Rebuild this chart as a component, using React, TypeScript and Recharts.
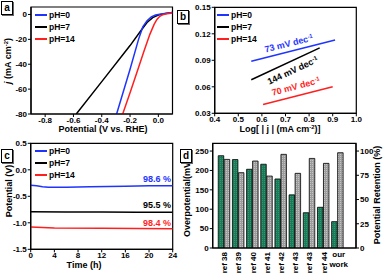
import React from "react";
import { LineChart, Line, XAxis, YAxis, ReferenceArea, BarChart, Bar } from "recharts";

const FONT = "'Liberation Sans', Arial, Helvetica, sans-serif";
const BLUE = "#1f35ff";
const RED = "#ff1f1f";
const BLACK = "#000000";

// (a) polarization curves, potential (V vs RHE) vs j (mA cm-2)
const lsvPh0 = [
  { x: -0.295, y: -80 }, { x: -0.2, y: -44 }, { x: -0.14, y: -20 }, { x: -0.11, y: -10 },
  { x: -0.08, y: -5 }, { x: -0.05, y: -2 }, { x: -0.02, y: -0.5 }, { x: 0.02, y: 0.3 }, { x: 0.1, y: 1.5 },
];
const lsvPh7 = [
  { x: -0.58, y: -80 }, { x: -0.4, y: -54 }, { x: -0.2, y: -25 }, { x: -0.12, y: -12.5 },
  { x: -0.08, y: -6.5 }, { x: -0.04, y: -2.5 }, { x: 0, y: -0.5 }, { x: 0.05, y: 0.7 }, { x: 0.1, y: 1.5 },
];
const lsvPh14 = [
  { x: -0.252, y: -80 }, { x: -0.2, y: -63 }, { x: -0.15, y: -46 }, { x: -0.1, y: -29 },
  { x: -0.06, y: -16 }, { x: -0.03, y: -8 }, { x: -0.01, y: -4 }, { x: 0.01, y: -1.5 },
  { x: 0.03, y: -0.3 }, { x: 0.06, y: 0.5 }, { x: 0.1, y: 1.2 },
];

// (b) Tafel lines
const tafelPh0 = [{ x: 0.555, y: 0.089 }, { x: 0.91, y: 0.113 }];
const tafelPh7 = [{ x: 0.555, y: 0.068 }, { x: 0.845, y: 0.104 }];
const tafelPh14 = [{ x: 0.605, y: 0.04 }, { x: 0.9, y: 0.06 }];

// (c) chronopotentiometry
const stabPh0 = [
  { x: 0, y: -0.29 }, { x: 1, y: -0.3 }, { x: 2, y: -0.32 }, { x: 3, y: -0.33 }, { x: 6, y: -0.33 },
  { x: 10, y: -0.32 }, { x: 16, y: -0.31 }, { x: 20, y: -0.3 }, { x: 24, y: -0.3 },
];
const stabPh7 = [
  { x: 0, y: -0.79 }, { x: 6, y: -0.795 }, { x: 12, y: -0.795 }, { x: 18, y: -0.8 }, { x: 24, y: -0.8 },
];
const stabPh14 = [
  { x: 0, y: -1.08 }, { x: 2, y: -1.09 }, { x: 4, y: -1.1 }, { x: 12, y: -1.105 }, { x: 24, y: -1.11 },
];

// (d) comparison with literature
const studies = ["ref 38", "ref 39", "ref 40", "ref 41", "ref 42", "ref 43", "ref 43", "ref 44", "our work"];
const overpotentials = [238, 228, 203, 216, 178, 137, 91, 105, 68];
const retentions = [91.4, 77.7, 89.7, 74.2, 96.6, 77, 92.4, 87.3, 98.3];
const compareData = studies.map((s, i) => ({ i, overpotential: overpotentials[i], retention: retentions[i] }));

const tickStyle = { fontSize: 8, fontWeight: 700, fill: "#000", fontFamily: FONT };
const axisLine = { stroke: "#000", strokeWidth: 1.2 };
const tickLine = { stroke: "#000", strokeWidth: 1 };

const Txt = ({ x, y, rot = 0, size = 9, color = "#000", children }: any) => (
  <div
    style={{
      position: "absolute", left: x, top: y, transform: `translate(-50%,-50%) rotate(${rot}deg)`,
      whiteSpace: "nowrap", fontFamily: FONT, fontWeight: 700, fontSize: size, color, lineHeight: 1,
    }}
  >
    {children}
  </div>
);

const PanelTag = ({ x, y, ch }: any) => (
  <div
    style={{
      position: "absolute", left: x, top: y, width: 10, height: 12, border: "1px solid #000",
      boxShadow: "1px 1px 0 #666", background: "#fff", fontFamily: FONT, fontWeight: 700, fontSize: 10,
      lineHeight: "12px", textAlign: "center",
    }}
  >
    {ch}
  </div>
);

const Legend3 = ({ x, y }: any) => (
  <div style={{ position: "absolute", left: x, top: y }}>
    {[["pH=0", BLUE], ["pH=7", BLACK], ["pH=14", RED]].map(([t, c], k) => (
      <div key={k} style={{ position: "absolute", left: 0, top: k * 12, display: "flex", alignItems: "center", height: 10 }}>
        <div style={{ width: 12, height: 1.6, background: c }} />
        <span style={{ marginLeft: 2, fontFamily: FONT, fontWeight: 700, fontSize: 8.5, whiteSpace: "nowrap" }}>{t}</span>
      </div>
    ))}
  </div>
);

const sup = (s: string) => <sup style={{ fontSize: "0.65em", verticalAlign: "0.5em", lineHeight: 0 }}>{s}</sup>;

const RefTick = ({ x, y, payload }: any) => {
  const label = studies[payload.value];
  if (!label) return null;
  if (label === "our work") {
    return (
      <g>
        <text x={x + 1} y={y + 7} textAnchor="middle" {...(tickStyle as any)}>our</text>
        <text x={x + 1} y={y + 17} textAnchor="middle" {...(tickStyle as any)}>work</text>
      </g>
    );
  }
  return (
    <text transform={`translate(${x + 3},${y + 2}) rotate(-90)`} textAnchor="end" {...(tickStyle as any)}>
      {label}
    </text>
  );
};

function PanelA() {
  return (
    <div style={{ position: "absolute", left: 0, top: 0, width: 192, height: 136 }}>
      <LineChart width={192} height={136} margin={{ top: 7, right: 19.5, bottom: 0, left: 0 }}>
        <XAxis type="number" dataKey="x" domain={[-0.9, 0.1]} ticks={[-0.8, -0.6, -0.4, -0.2, 0]}
          tickFormatter={(v: number) => v.toFixed(1)} height={22} tick={tickStyle} axisLine={axisLine}
          tickLine={tickLine} tickSize={3} tickMargin={0} allowDataOverflow />
        <YAxis type="number" domain={[-80, 6]} ticks={[0, -20, -40, -60, -80]} width={31} tick={tickStyle}
          axisLine={axisLine} tickLine={tickLine} tickSize={3} tickMargin={1} allowDataOverflow />
        <ReferenceArea x1={-0.9} x2={0.1} y1={-80} y2={6} fill="none" stroke="#000" strokeWidth={1.2} />
        <Line data={lsvPh7} dataKey="y" stroke={BLACK} strokeWidth={1.5} dot={false} isAnimationActive={false} />
        <Line data={lsvPh0} dataKey="y" stroke={BLUE} strokeWidth={1.5} dot={false} isAnimationActive={false} />
        <Line data={lsvPh14} dataKey="y" stroke={RED} strokeWidth={1.5} dot={false} isAnimationActive={false} />
      </LineChart>
      <Legend3 x={35} y={10} />
      <Txt x={8} y={61} rot={-90}><i>j</i> (mA cm{sup("-2")})</Txt>
      <Txt x={103} y={129}>Potential (V vs. RHE)</Txt>
      <PanelTag x={1} y={1} ch="a" />
    </div>
  );
}

function PanelB() {
  return (
    <div style={{ position: "absolute", left: 192, top: 0, width: 192, height: 136 }}>
      <LineChart width={192} height={136} margin={{ top: 7.3, right: 27.7, bottom: 0, left: 0 }}>
        <XAxis type="number" dataKey="x" domain={[0.4, 1.0]} ticks={[0.4, 0.5, 0.6, 0.7, 0.8, 0.9, 1.0]}
          tickFormatter={(v: number) => v.toFixed(1)} height={22.7} tick={tickStyle} axisLine={axisLine}
          tickLine={tickLine} tickSize={3} tickMargin={0} allowDataOverflow />
        <YAxis type="number" domain={[0.03, 0.15]} ticks={[0.03, 0.06, 0.09, 0.12, 0.15]}
          tickFormatter={(v: number) => v.toFixed(2)} width={22.7} tick={tickStyle} axisLine={axisLine}
          tickLine={tickLine} tickSize={3} tickMargin={1} allowDataOverflow />
        <ReferenceArea x1={0.4} x2={1.0} y1={0.03} y2={0.15} fill="none" stroke="#000" strokeWidth={1.2} />
        <Line data={tafelPh0} dataKey="y" stroke={BLUE} strokeWidth={1.5} dot={false} isAnimationActive={false} />
        <Line data={tafelPh7} dataKey="y" stroke={BLACK} strokeWidth={1.5} dot={false} isAnimationActive={false} />
        <Line data={tafelPh14} dataKey="y" stroke={RED} strokeWidth={1.5} dot={false} isAnimationActive={false} />
      </LineChart>
      <Legend3 x={25} y={10} />
      <Txt x={97} y={44} rot={-14} color={BLUE}>73 mV dec{sup("-1")}</Txt>
      <Txt x={101} y={71} rot={-25}>144 mV dec{sup("-1")}</Txt>
      <Txt x={104} y={87} rot={-15} color={RED}>70 mV dec{sup("-1")}</Txt>
      <Txt x={88} y={129}>Log[ | j | (mA cm{sup("-2")})]</Txt>
    </div>
  );
}

function PanelC() {
  return (
    <div style={{ position: "absolute", left: 0, top: 136, width: 192, height: 137 }}>
      <LineChart width={192} height={137} margin={{ top: 7.3, right: 19.3, bottom: 0, left: 0 }}>
        <XAxis type="number" dataKey="x" domain={[0, 24]} ticks={[0, 4, 8, 12, 16, 20, 24]} height={23.7}
          tick={tickStyle} axisLine={axisLine} tickLine={tickLine} tickSize={3} tickMargin={0} allowDataOverflow />
        <YAxis type="number" domain={[-1.5, 0.5]} ticks={[0.5, 0, -0.5, -1, -1.5]}
          tickFormatter={(v: number) => v.toFixed(1)} width={30.7} tick={tickStyle} axisLine={axisLine}
          tickLine={tickLine} tickSize={3} tickMargin={1} allowDataOverflow />
        <ReferenceArea x1={0} x2={24} y1={-1.5} y2={0.5} fill="none" stroke="#000" strokeWidth={1.2} />
        <Line data={stabPh0} dataKey="y" stroke={BLUE} strokeWidth={1.5} dot={false} isAnimationActive={false} />
        <Line data={stabPh7} dataKey="y" stroke={BLACK} strokeWidth={1.5} dot={false} isAnimationActive={false} />
        <Line data={stabPh14} dataKey="y" stroke={RED} strokeWidth={1.5} dot={false} isAnimationActive={false} />
      </LineChart>
      <Legend3 x={35} y={10} />
      <Txt x={157} y={43} color={BLUE}>98.6 %</Txt>
      <Txt x={157} y={69}>95.5 %</Txt>
      <Txt x={157} y={87} color={RED}>98.4 %</Txt>
      <Txt x={8.5} y={55} rot={-90}>Potential (V)</Txt>
      <Txt x={84} y={129}>Time (h)</Txt>
      <PanelTag x={1} y={13} ch="c" />
    </div>
  );
}

function PanelD() {
  return (
    <div style={{ position: "absolute", left: 192, top: 136, width: 192, height: 137 }}>
      <BarChart width={192} height={137} data={compareData} margin={{ top: 7.3, right: 0, bottom: 0, left: 0 }}
        barGap={0.5}>
        <defs>
          <pattern id="greenHatch" width="2" height="2" patternUnits="userSpaceOnUse">
            <rect width="2" height="2" fill="#1d7a58" />
            <rect width="1" height="1" fill="#2f9a72" />
          </pattern>
          <pattern id="grayHatch" width="2" height="2" patternUnits="userSpaceOnUse">
            <rect width="2" height="2" fill="#9c9c9c" />
            <rect width="1" height="1" fill="#c4c4c4" />
          </pattern>
        </defs>
        <XAxis type="number" dataKey="i" domain={[-0.82, 9.29]} ticks={[0, 1, 2, 3, 4, 5, 6, 7, 8]} height={25}
          tick={<RefTick />} axisLine={axisLine} tickLine={false} tickSize={0} allowDataOverflow />
        <YAxis yAxisId="left" type="number" domain={[0, 270]} ticks={[0, 50, 100, 150, 200, 250]} width={20.7}
          tick={tickStyle} axisLine={axisLine} tickLine={tickLine} tickSize={3} tickMargin={1} allowDataOverflow />
        <YAxis yAxisId="right" orientation="right" type="number" domain={[0, 108]} ticks={[0, 25, 50, 75, 100]}
          width={28} tick={tickStyle} axisLine={axisLine} tickLine={tickLine} tickSize={3} tickMargin={1}
          allowDataOverflow />
        <Bar yAxisId="left" dataKey="overpotential" barSize={5.5} fill="url(#greenHatch)" stroke="#000"
          strokeWidth={0.8} isAnimationActive={false} />
        <Bar yAxisId="right" dataKey="retention" barSize={5.5} fill="url(#grayHatch)" stroke="#000"
          strokeWidth={0.8} isAnimationActive={false} />
        <ReferenceArea yAxisId="left" x1={-0.82} x2={9.29} y1={0} y2={270} fill="none" stroke="#000"
          strokeWidth={1.2} />
      </BarChart>
      <Txt x={-5} y={62} rot={-90}>Overpotential(mV)</Txt>
      <Txt x={185} y={59} rot={-90}>Potential Retention (%)</Txt>
      <PanelTag x={-12} y={13} ch="d" />
    </div>
  );
}

export default function App() {
  return (
    <div style={{ position: "absolute", left: 0, top: 0, width: 384, height: 273, background: "#fff" }}>
      <PanelA />
      <PanelB />
      <PanelC />
      <PanelD />
      <PanelTag x={177} y={10} ch="b" />
    </div>
  );
}
